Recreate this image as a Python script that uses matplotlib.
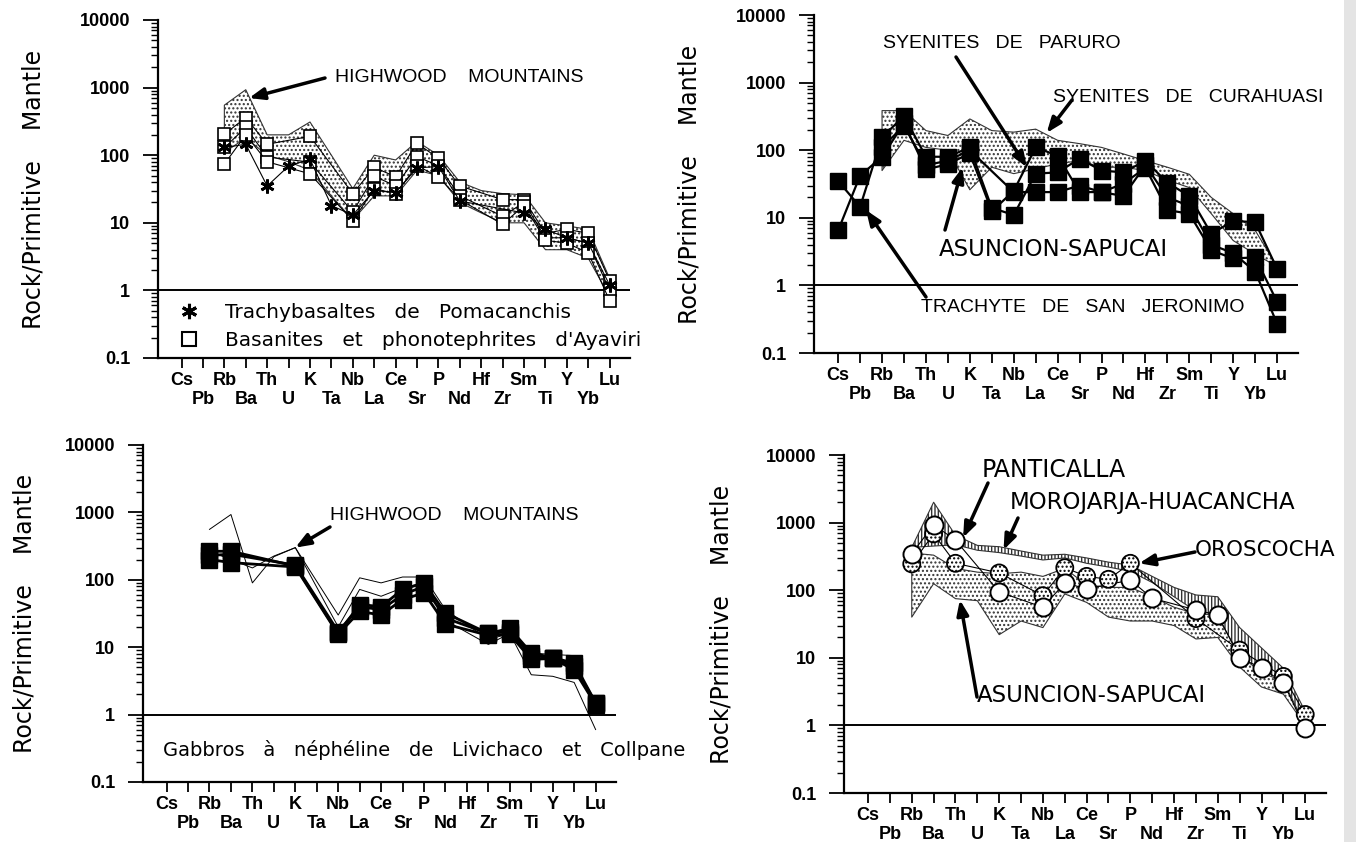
import numpy as np
import matplotlib
matplotlib.use('Agg')
import matplotlib.pyplot as plt
from matplotlib.ticker import LogLocator, NullFormatter
from matplotlib.patches import Rectangle

nan = np.nan

# element order of the spider diagrams
elements = ['Cs', 'Pb', 'Rb', 'Ba', 'Th', 'U', 'K', 'Ta', 'Nb', 'La', 'Ce',
            'Sr', 'P', 'Nd', 'Hf', 'Zr', 'Sm', 'Ti', 'Y', 'Yb', 'Lu']
yticks = [0.1, 1, 10, 100, 1000, 10000]
ytick_labels = ['0.1', '1', '10', '100', '1000', '10000']

# --- panel A : Pomacanchis / Ayaviri ---
pomacanchis = [nan, nan, 130, 145, 35, 69, 87, 18, 13, 30, 28, 65, 68, 21, nan, nan, 14, 8, 6, 5, 1.2]
ayaviri_1 = [nan, nan, 204, 360, 145, nan, 190, nan, 27, 66, 48, 150, 90, 35, nan, 22, 22, 7, 8, 7, 1.4]
ayaviri_2 = [nan, nan, 130, 257, 94, nan, 79, nan, 14.5, 49, 35, 95, 70, 25, nan, 12.5, 20, 6, 6, 5, 1.0]
ayaviri_3 = [nan, nan, 74, 200, 80, nan, 53, nan, 10.7, 32, 27, 70, 48, 22, nan, 9.5, 18, 5.5, 5, 3.6, 0.7]
highwood_hi = [nan, nan, 550, 930, 200, 200, 310, 100, 32, 100, 85, 160, 100, 40, 30, 27, 26, 10, 9, 8, 1.5]
highwood_lo = [nan, nan, 110, 180, 100, 80, 60, 25, 11, 25, 25, 60, 50, 20, 14, 10, 10, 4, 4, 3, 0.8]

# --- panel B : syenites / trachyte ---
syenite_1 = [35, 14.5, 155, 320, 80, 80, 110, 14, 11, 45, 47, 75, 50, 47, 70, 33, 21, 5.8, 9, 8.6, 1.75]
syenite_2 = [6.5, 42, 80, 250, 52, 62, 90, 12.5, 25, 110, 83, 24, 24, 32, 55, 13, 11.5, 3.3, 2.5, 2.6, 0.57]
syenite_3 = [nan, nan, 110, 230, 60, 70, 100, nan, 24, 24, 24, 30, 24, 21, 60, 20, 15, 4, 3, 1.6, 0.27]
asuncion_b_hi = [nan, nan, 385, 385, 195, 165, 290, 195, 185, 205, 140, 125, 110, 88, 70, 56, 44, 20, 11.5, 6.5, 1.9]
asuncion_b_lo = [nan, nan, 50, 140, 110, 100, 26, 56, 45, 53, 63, 70, 56, 56, 50, 36, 28, 11.5, 4.6, 2.9, 1.9]

# --- panel C : Livichaco / Collpane gabbros ---
gabbro_1 = [nan, nan, 265, 265, nan, nan, 160, nan, 16, 43, 40, 72, 90, 32, nan, 16, 19, 8.2, 7, 5.8, 1.5]
gabbro_2 = [nan, nan, 230, 240, nan, nan, 165, nan, 17, 40, 36, 60, 80, 27, nan, 16, 17, 7.5, 7, 5.2, 1.5]
gabbro_3 = [nan, nan, 200, 180, nan, nan, 155, nan, 15.5, 34, 30, 51, 64, 22, nan, 15, 15.5, 6.6, 6.8, 4.6, 1.4]
highwood_c_a = [nan, nan, 560, 930, 90, 220, 300, nan, 30, 107, 90, 110, 110, 36, nan, 13, 16, 3.9, 3.7, 3.0, 0.6]
highwood_c_b = [nan, nan, 265, nan, 150, 225, 300, nan, 20, 72, 57, 76, 90, 25, nan, 11, 16, 8.2, 7.8, 7.5, 1.06]

# --- panel D : Panticalla / Oroscocha ---
panticalla = [nan, nan, 345, 930, 550, nan, 94, nan, 56, 128, 105, nan, 141, 76, nan, 51, 43, 10, 7.1, 4.3, 0.9]
oroscocha = [nan, nan, 245, 680, 250, nan, 180, nan, 83, 215, 160, 145, 250, nan, nan, 38, nan, 13, nan, 5.3, 1.45]
morojarja_hi = [nan, nan, 430, 2000, 650, 460, 440, 380, 330, 340, 300, 260, 235, 160, 110, 85, 80, 28, 14, 7, 1.6]
morojarja_lo = [nan, nan, 430, 450, 470, 390, 360, 320, 280, 300, 250, 220, 190, 130, 80, 49, 40, 11, 6, 4.5, 1.0]
asuncion_d_hi = [nan, nan, 355, 330, 210, 185, 175, 185, 160, 210, 120, 110, 110, 80, 56, 45, 43, 13, 8.4, 4.7, 1.5]
asuncion_d_lo = [nan, nan, 40, 125, 75, 70, 22, 35, 28, 88, 66, 40, 35, 35, 30, 19, 20, 7.3, 3.7, 2.9, 1.0]

W, H = 1356, 842
NARROW = ['Liberation Sans Narrow', 'Liberation Sans', 'DejaVu Sans']
TICKF = ['Liberation Sans', 'DejaVu Sans']
SANS = ['DejaVu Sans']
x_all = np.arange(len(elements))

fig = plt.figure(figsize=(W / 100, H / 100), dpi=100)
fig.patch.set_facecolor('white')


def px_axes(l, t, r, b):
    return fig.add_axes([l / W, 1 - b / H, (r - l) / W, (b - t) / H])


def style_axes(ax, label_x):
    ax.set_yscale('log')
    ax.set_ylim(0.1, 10000)
    ax.set_xlim(-1.1, 20.95)
    ax.patch.set_alpha(0)
    for s in ('top', 'right'):
        ax.spines[s].set_visible(False)
    for s in ('left', 'bottom'):
        ax.spines[s].set_linewidth(1.6)
    ax.set_yticks(yticks)
    ax.set_yticklabels(ytick_labels, fontweight='bold', family=TICKF, fontsize=13)
    ax.yaxis.set_minor_locator(LogLocator(base=10, subs=np.arange(2, 10)))
    ax.yaxis.set_minor_formatter(NullFormatter())
    ax.tick_params(axis='y', which='major', direction='out', length=11, width=1.3, pad=9)
    ax.tick_params(axis='y', which='minor', direction='out', length=5, width=1.0)
    ax.set_xticks(x_all)
    ax.set_xticklabels([e if i % 2 == 0 else '\n' + e for i, e in enumerate(elements)],
                       fontweight='bold', family=TICKF, fontsize=13, linespacing=1.15)
    ax.tick_params(axis='x', direction='out', length=7, width=1.3, pad=3)
    ax.axhline(1, color='black', lw=1.4, zorder=1)
    ax.set_ylabel('Rock/Primitive    Mantle', fontsize=17, family=SANS)
    ax.yaxis.set_label_coords(label_x, 0.5)


def series(ax, vals, **kw):
    y = np.asarray(vals, float)
    m = ~np.isnan(y)
    ax.plot(x_all[m], y[m], **kw)


def band(ax, lo, hi, hatch='....', fill=True, lw=0.8):
    lo = np.asarray(lo, float)
    hi = np.asarray(hi, float)
    m = ~np.isnan(lo) & ~np.isnan(hi)
    if fill:
        ax.fill_between(x_all[m], lo[m], hi[m], facecolor='white', edgecolor='0.2',
                        hatch=hatch, lw=lw, zorder=2)
    else:
        series(ax, hi, color='black', lw=0.7, zorder=2)
        series(ax, lo, color='black', lw=0.7, zorder=2)


def arrow(ax, xy, start_px, lw=2.5):
    ax.annotate('', xy=xy, xycoords='data', xytext=(start_px[0], H - start_px[1]),
                textcoords='figure pixels',
                arrowprops=dict(arrowstyle='-|>,head_length=0.9,head_width=0.35',
                                lw=lw, color='black', shrinkA=0, shrinkB=0))


def label(x, y, s, size=13.5, family=NARROW):
    fig.text(x / W, 1 - y / H, s, ha='left', va='center', fontsize=size, family=family)


# ---------------- panel A ----------------
axA = px_axes(158, 20, 630, 358)
style_axes(axA, -0.238)
band(axA, highwood_lo, highwood_hi)
for s in (ayaviri_1, ayaviri_2, ayaviri_3):
    series(axA, s, color='black', lw=0.8, marker='s', ms=9, mfc='white', mec='black',
           mew=1.2, zorder=3)
series(axA, pomacanchis, color='black', lw=0.8, marker=(6, 2, 0), ms=10, mew=2,
       zorder=4)
label(335, 78, 'HIGHWOOD    MOUNTAINS', 14)
arrow(axA, (3.15, 700), (325, 78))
axA.plot([], [], ls='none', marker=(6, 2, 0), ms=11, mew=2.2, color='black',
         label='Trachybasaltes   de   Pomacanchis')
axA.plot([], [], ls='none', marker='s', ms=10, mfc='white', mec='black', mew=1.5,
         label="Basanites   et   phonotephrites   d'Ayaviri")
axA.legend(loc='upper left', bbox_to_anchor=(0.035, 0.175), frameon=False,
           handlelength=1.0, handletextpad=1.3, labelspacing=0.45, borderaxespad=0,
           borderpad=0.2, prop={'family': SANS, 'size': 14.5})

# ---------------- panel B ----------------
axB = px_axes(814, 15, 1298, 353)
style_axes(axB, -0.232)
band(axB, asuncion_b_lo, asuncion_b_hi)
for s in (syenite_1, syenite_2, syenite_3):
    series(axB, s, color='black', lw=1.6, marker='s', ms=11, mfc='black', mec='black',
           zorder=3)
label(883, 43, 'SYENITES   DE   PARURO', 14)
arrow(axB, (8.6, 56), (956, 57))
label(1053, 97, 'SYENITES   DE   CURAHUASI', 14)
arrow(axB, (9.5, 180), (1072, 100))
label(939, 250, 'ASUNCION-SAPUCAI', 16.5, SANS)
arrow(axB, (5.67, 56), (945, 230))
label(921, 307, 'TRACHYTE   DE   SAN   JERONIMO', 14)
arrow(axB, (1.27, 13), (926, 297))

# ---------------- panel C ----------------
axC = px_axes(143, 445, 616, 782)
style_axes(axC, -0.226)
band(axC, highwood_c_b, highwood_c_a, fill=False)
for s in (gabbro_1, gabbro_2, gabbro_3):
    series(axC, s, color='black', lw=2.0, marker='s', ms=11, mfc='black', mec='black',
           zorder=3)
label(330, 515, 'HIGHWOOD    MOUNTAINS', 14)
arrow(axC, (6.0, 300), (330, 527))
label(163, 750, 'Gabbros   à   néphéline   de   Livichaco   et   Collpane', 14, SANS)

# ---------------- panel D ----------------
axD = px_axes(844, 455, 1326, 793)
style_axes(axD, -0.23)
band(axD, asuncion_d_lo, asuncion_d_hi, hatch='....')
band(axD, morojarja_lo, morojarja_hi, hatch='|||||')
series(axD, oroscocha, color='black', lw=0.8, zorder=3)
series(axD, panticalla, color='black', lw=0.8, zorder=3)
oy = np.asarray(oroscocha, float)
om = ~np.isnan(oy)
axD.scatter(x_all[om], oy[om], s=150, facecolor='white', edgecolor='black', hatch='....',
            lw=1.3, zorder=4)
series(axD, panticalla, ls='none', marker='o', ms=13, mfc='white', mec='black', mew=1.4,
       zorder=5)
label(982, 470, 'PANTICALLA', 17, SANS)
arrow(axD, (4.35, 600), (988, 483))
label(1010, 502, 'MOROJARJA-HUACANCHA', 16.5, SANS)
arrow(axD, (6.2, 395), (1018, 518))
label(1195, 550, 'OROSCOCHA', 15.5, SANS)
arrow(axD, (12.4, 250), (1195, 552))
label(977, 695, 'ASUNCION-SAPUCAI', 16.5, SANS)
arrow(axD, (4.2, 72), (977, 697))

# scanner shadow on the right edge
fig.patches.append(Rectangle((1344 / W, 0), 12 / W, 1, transform=fig.transFigure,
                             facecolor='#e4e4e4', edgecolor='none'))

fig.savefig('out.png', dpi=100)
